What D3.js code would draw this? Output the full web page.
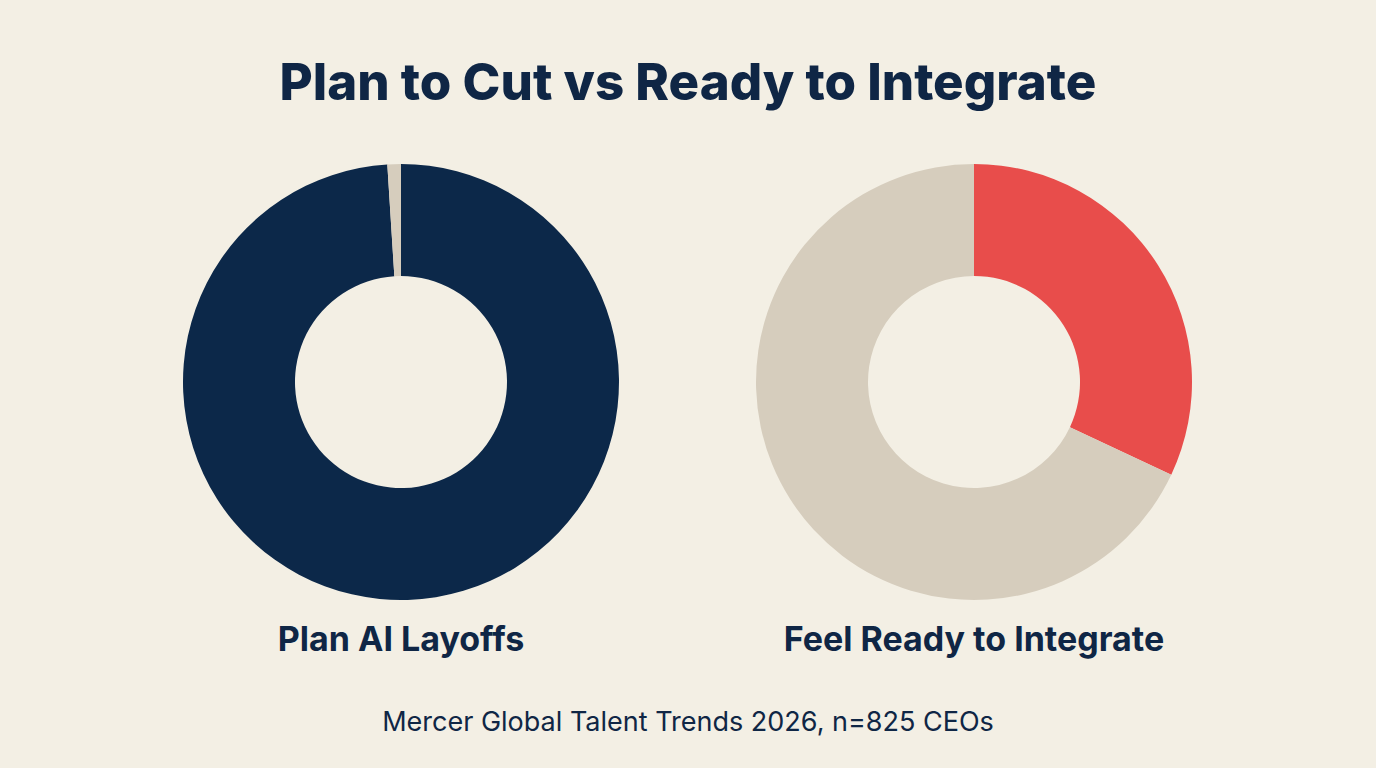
<!DOCTYPE html>
<html>
<head>
<meta charset="utf-8">
<script src="https://cdn.jsdelivr.net/npm/d3@7"></script>
<style>
  html, body { margin: 0; padding: 0; background: #f3efe4; }
  svg { display: block; }
  text { fill: #0f2645; font-family: Inter, "Liberation Sans", sans-serif; }
</style>
</head>
<body>
<svg id="chart"></svg>
<script>
// Chart data
var donutLabels = ['Plan AI Layoffs', 'Feel Ready to Integrate']
var shareYes = [99, 32]
var shareNo = [1, 68]
var title = 'Plan to Cut vs Ready to Integrate'
var source = 'Mercer Global Talent Trends 2026, n=825 CEOs'

var conf = {
  width: 1376,
  height: 768,
  outer: 218,
  inner: 106,
  cy: 382
}

var fills = [
  ['#0c2849', '#d6cdbd'],
  ['#e84d4b', '#d6cdbd']
]

var svg = d3.select('#chart')
  .attr('width', conf.width)
  .attr('height', conf.height)

svg.append('rect')
  .attr('width', conf.width)
  .attr('height', conf.height)
  .attr('fill', '#f3efe4')

// Title
svg.append('text')
  .attr('x', conf.width / 2)
  .attr('y', 100)
  .attr('text-anchor', 'middle')
  .style('font-size', '51px')
  .style('font-weight', 800)
  .text(title)

// Horizontal placement of the two donuts
var x = d3.scalePoint()
  .domain(donutLabels)
  .range([401, 974])

var pie = d3.pie()
  .sort(null)
  .value(function (d) { return d })

var arc = d3.arc()
  .innerRadius(conf.inner)
  .outerRadius(conf.outer)

var donuts = svg.selectAll('g.donut')
  .data(donutLabels)
  .enter()
    .append('g')
    .attr('class', 'donut')
    .attr('transform', function (d) {
      return 'translate(' + x(d) + ', ' + conf.cy + ')'
    })

donuts.selectAll('path')
  .data(function (d, i) {
    return pie([shareYes[i], shareNo[i]]).map(function (a) {
      a.donut = i
      return a
    })
  })
  .enter()
    .append('path')
    .attr('d', arc)
    .attr('fill', function (d) { return fills[d.donut][d.index] })

// Labels under each donut
donuts.append('text')
  .attr('y', 269)
  .attr('text-anchor', 'middle')
  .style('font-size', '34px')
  .style('font-weight', 700)
  .text(function (d) { return d })

// Source
svg.append('text')
  .attr('x', conf.width / 2)
  .attr('y', 731)
  .attr('text-anchor', 'middle')
  .style('font-size', '27px')
  .style('font-weight', 400)
  .text(source)
</script>
</body>
</html>
